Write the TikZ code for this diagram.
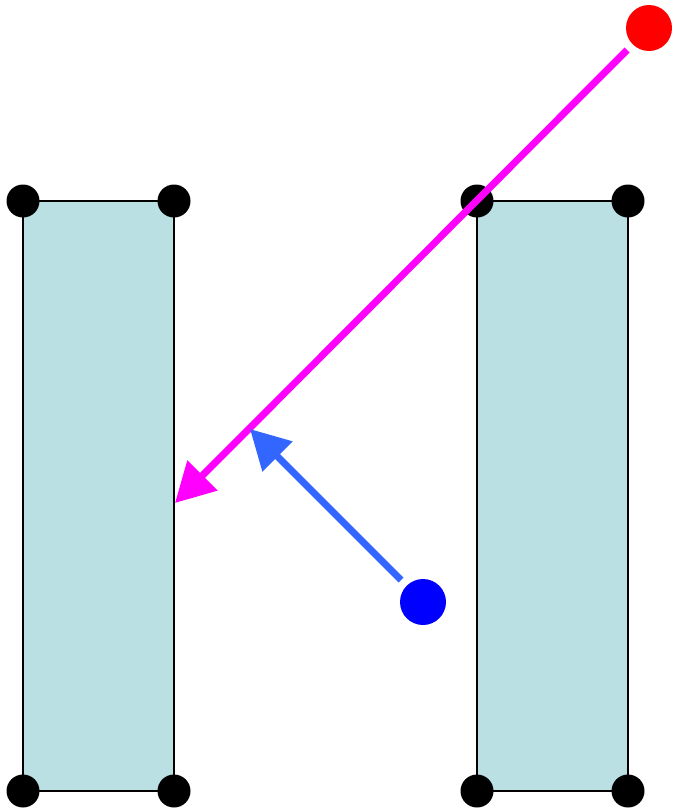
\documentclass[tikz,border=0pt]{standalone}
\usepackage{tikz}
\usetikzlibrary{arrows.meta, positioning}
\definecolor{wallfill}{RGB}{187,224,227}
\definecolor{raypink}{RGB}{255,0,255}
\definecolor{rayblue}{RGB}{51,102,255}

\begin{document}
\begin{tikzpicture}[x=1pt, y=-1pt,
  wall/.style={draw=black, line width=2.6pt, fill=wallfill,
    minimum width=151pt, minimum height=590pt, inner sep=0pt, outer sep=0pt},
  corner/.style={circle, fill=black, minimum size=33pt, inner sep=0pt},
  source/.style={circle, minimum size=46pt, inner sep=0pt, outer sep=8pt},
  ray/.style={line width=7pt, -{Triangle[length=39pt, width=41pt]}}]
  \useasboundingbox (0,0) rectangle (673,809);
  % the two walls
  \node[wall] (lwall) at (98.5,496) {};
  \node[wall] (rwall) at (552.5,496) {};
  \foreach \w in {lwall, rwall} {
    \foreach \a/\s in {north west/nw, north east/ne, south west/sw, south east/se} {
      \node[corner] (\w\s) at (\w.\a) {};
    }
  }
  % sources
  \node[source, fill=red] (emitter) at (649,28) {};
  \node[source, fill=blue] (viewer) at (423,602) {};
  \coordinate (hit) at (175,503);
  \coordinate (bounce) at (250,429);
  % rays
  \draw[ray, raypink] (emitter) -- (hit);
  \draw[ray, rayblue] (viewer) -- (bounce);
\end{tikzpicture}
\end{document}
